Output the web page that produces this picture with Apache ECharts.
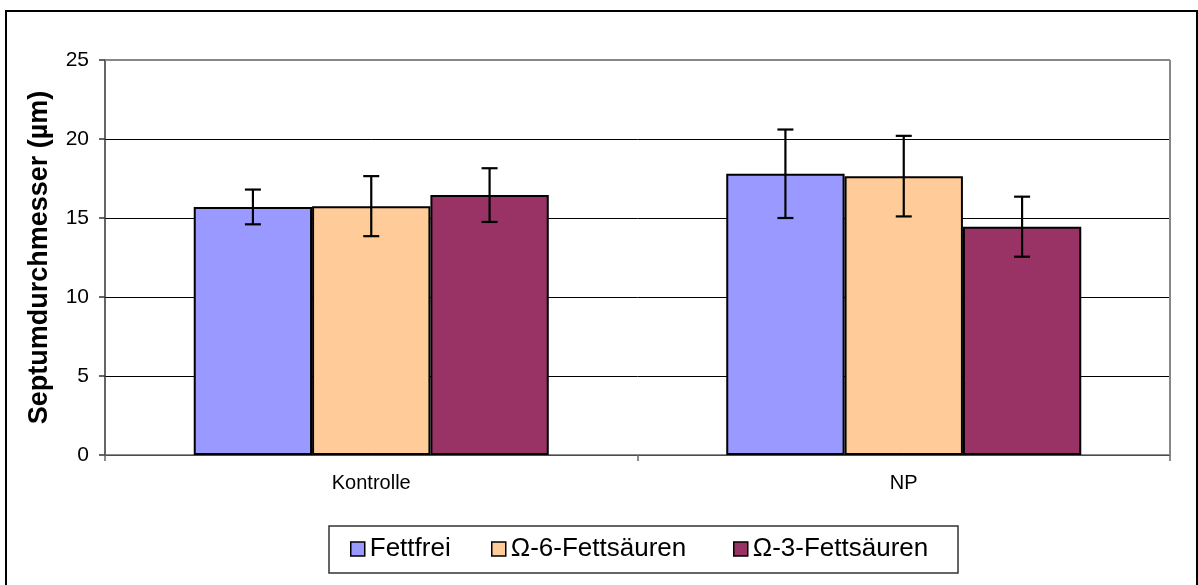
<!DOCTYPE html>
<html>
<head>
<meta charset="utf-8">
<script src="https://cdn.jsdelivr.net/npm/echarts@6/dist/echarts.min.js"></script>
<style>html,body{margin:0;padding:0;background:#fff}#c{width:1198px;height:585px}</style>
</head>
<body>
<div id="c"></div>
<script>
const categories = ['Kontrolle', 'NP'];
const seriesNames = ['Fettfrei', 'Ω-6-Fettsäuren', 'Ω-3-Fettsäuren'];
const fettfrei = [15.7, 17.8];
const omega6 = [15.75, 17.65];
const omega3 = [16.45, 14.45];
const errFettfrei = [1.1, 2.8];
const errOmega6 = [1.9, 2.55];
const errOmega3 = [1.7, 1.9];
const yTicks = [0, 5, 10, 15, 20, 25];
const colors = ['#9999FF', '#FFCC99', '#993366'];

const values = [fettfrei, omega6, omega3];
const errs = [errFettfrei, errOmega6, errOmega3];
const GAP = 1 / 3;

const chart = echarts.init(document.getElementById('c'));

const barSeries = seriesNames.map((n, k) => ({
  name: n,
  type: 'bar',
  data: values[k],
  barGap: '0%',
  barCategoryGap: '33.33%',
  itemStyle: { color: colors[k], borderColor: '#000', borderWidth: 2 },
  z: 2
}));

const errSeries = seriesNames.map((n, k) => ({
  name: 'err' + k,
  type: 'custom',
  data: values[k].map((v, i) => [i, v, errs[k][i]]),
  encode: { x: 0, y: 1 },
  z: 10,
  renderItem: function (params, api) {
    const ci = api.value(0), v = api.value(1), e = api.value(2);
    const band = api.size([1, 0])[0];
    const bw = band * (1 - GAP) / 3;
    const c = api.coord([ci, v]);
    const x = c[0] + (k - 1) * bw;
    const top = api.coord([ci, v + e])[1];
    const bot = api.coord([ci, v - e])[1];
    const st = { stroke: '#000', lineWidth: 2.2 };
    return {
      type: 'group',
      children: [
        { type: 'line', shape: { x1: x, y1: top, x2: x, y2: bot }, style: st },
        { type: 'line', shape: { x1: x - 8, y1: top, x2: x + 8, y2: top }, style: st },
        { type: 'line', shape: { x1: x - 8, y1: bot, x2: x + 8, y2: bot }, style: st }
      ]
    };
  }
}));

const legendLefts = [350, 491, 733];
const legends = seriesNames.map((n, k) => ({
  data: [n],
  left: legendLefts[k],
  top: 536,
  padding: 0,
  icon: 'rect',
  itemWidth: 14,
  itemHeight: 14,
  itemGap: 5,
  selectedMode: false,
  itemStyle: { borderColor: '#000', borderWidth: 1.5 },
  textStyle: { fontFamily: 'Liberation Sans, Arial', fontSize: 26, color: '#000', padding: [0, 0, 0, 0] }
}));

chart.setOption({
  animation: false,
  backgroundColor: '#fff',
  grid: { left: 105, right: 28, top: 60, bottom: 130, containLabel: false },
  legend: legends,
  xAxis: {
    type: 'category',
    data: categories,
    axisLine: { lineStyle: { color: '#666', width: 1.5 } },
    axisTick: { show: true, length: 6, lineStyle: { color: '#666', width: 1.5 } },
    axisLabel: { fontFamily: 'Liberation Sans, Arial', fontSize: 20, color: '#000', margin: 18 },
    splitLine: { show: false }
  },
  yAxis: {
    type: 'value',
    min: 0, max: 25, interval: 5,
    name: 'Septumdurchmesser (µm)',
    nameLocation: 'middle',
    nameGap: 52,
    nameTextStyle: { fontFamily: 'Liberation Sans, Arial', fontSize: 27, fontWeight: 'bold', color: '#000' },
    axisLine: { show: true, lineStyle: { color: '#333', width: 1.5 } },
    axisTick: { show: true, length: 6, lineStyle: { color: '#333', width: 1.5 } },
    axisLabel: {
      fontFamily: 'Liberation Sans, Arial', fontSize: 21, color: '#000', margin: 16,
      formatter: function (v) { return yTicks.indexOf(v) >= 0 ? String(v) : ''; }
    },
    splitLine: { show: true, lineStyle: { color: ['#000', '#000', '#000', '#000', '#000', '#888'], width: 1 } }
  },
  series: barSeries.concat(errSeries),
  graphic: [
    { type: 'line', z: 50, shape: { x1: 105, y1: 60, x2: 1170, y2: 60 }, style: { stroke: '#888', lineWidth: 2 } },
    { type: 'line', z: 50, shape: { x1: 1170, y1: 60, x2: 1170, y2: 455 }, style: { stroke: '#888', lineWidth: 2 } },
    { type: 'rect', z: -1, shape: { x: 329, y: 526, width: 629, height: 47 }, style: { fill: '#fff', stroke: '#333', lineWidth: 1.5 } },
    { type: 'rect', z: 50, shape: { x: 6, y: 11, width: 1191, height: 640 }, style: { fill: 'none', stroke: '#000', lineWidth: 2 } }
  ]
});
</script>
</body>
</html>
